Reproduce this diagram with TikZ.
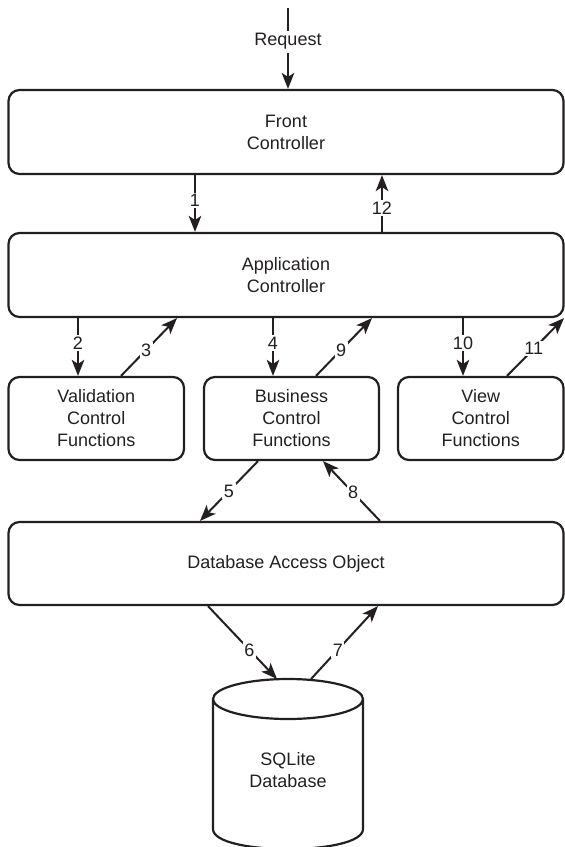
\documentclass[tikz,border=0pt]{standalone}
\usepackage{fontspec}
\setmainfont{Liberation Sans}
\usetikzlibrary{arrows.meta}
\definecolor{ink}{RGB}{35,31,32}
\begin{document}
\begin{tikzpicture}[x=1pt,y=-1pt,
  txt/.style={text=ink, align=center, font=\fontsize{18}{22}\selectfont},
  box/.style={txt, draw=ink, line width=2.2pt, rounded corners=11pt, inner sep=0pt},
  arr/.style={draw=ink, line width=2pt, -{Stealth[length=16pt,width=12.5pt,inset=4pt]}},
  lbl/.style={txt, fill=white, inner xsep=1.5pt, inner ysep=1.5pt}]
\useasboundingbox (0,0) rectangle (565,847);

% boxes
\node[box, minimum width=555pt, minimum height=84pt] (fc)  at (286,132)   {Front\\Controller};
\node[box, minimum width=555pt, minimum height=84pt] (app) at (286,275)   {Application\\Controller};
\node[box, minimum width=175.5pt, minimum height=83pt] (val) at (96.25,418.5) {Validation\\Control\\Functions};
\node[box, minimum width=175pt, minimum height=83pt] (bus) at (291.5,418.5) {Business\\Control\\Functions};
\node[box, minimum width=165.5pt, minimum height=83pt] (vw) at (480.75,418.5) {View\\Control\\Functions};
\node[box, minimum width=555pt, minimum height=83pt] (dao) at (286,563.5) {Database Access Object};

% database cylinder
\draw[draw=ink, line width=2.2pt] (288,699) ellipse [x radius=75, y radius=20]
  (213,699) -- (213,829) .. controls (213,855.7) and (363,855.7) .. (363,829) -- (363,699);
\node[txt] (db) at (288,770) {SQLite\\Database};
\coordinate (dbtop) at (288,679);

% connector columns
\coordinate (rq) at (288,8);
\coordinate (c1) at (195,0);   \coordinate (c12) at (382,0);
\coordinate (c2) at (78,0);    \coordinate (c3a) at (121,0);  \coordinate (c3b) at (177,0);
\coordinate (c4) at (273,0);   \coordinate (c9a) at (316,0);  \coordinate (c9b) at (372,0);
\coordinate (c10) at (463,0);  \coordinate (c11a) at (507,0); \coordinate (c11b) at (564,0);
\coordinate (c5a) at (258,0);  \coordinate (c5b) at (200,0);
\coordinate (c8a) at (380,0);  \coordinate (c8b) at (323,0);
\coordinate (c6a) at (208,0);  \coordinate (c6b) at (277,0);
\coordinate (c7a) at (311,0);  \coordinate (c7b) at (378,0);

% connectors
\draw[arr] (rq) -- node[lbl, pos=.415, inner ysep=3pt] {Request} (fc.north -| rq);
\draw[arr] (fc.south -| c1) -- node[lbl, pos=.45] {1} (app.north -| c1);
\draw[arr] (app.north -| c12) -- node[lbl, pos=.42] {12} (fc.south -| c12);
\draw[arr] (app.south -| c2) -- node[lbl, pos=.43] {2} (val.north -| c2);
\draw[arr] (val.north -| c3a) -- node[lbl, pos=.45] {3} (app.south -| c3b);
\draw[arr] (app.south -| c4) -- node[lbl, pos=.43] {4} (bus.north -| c4);
\draw[arr] (bus.north -| c9a) -- node[lbl, pos=.45] {9} (app.south -| c9b);
\draw[arr] (app.south -| c10) -- node[lbl, pos=.43] {10} (vw.north -| c10);
\draw[arr] (vw.north -| c11a) -- node[lbl, pos=.47] {11} (app.south -| c11b);
\draw[arr] (bus.south -| c5a) -- node[lbl, pos=.5] {5} (dao.north -| c5b);
\draw[arr] (dao.north -| c8a) -- node[lbl, pos=.47] {8} (bus.south -| c8b);
\draw[arr] (dao.south -| c6a) -- node[lbl, pos=.6] {6} (dbtop -| c6b);
\draw[arr] (dbtop -| c7a) -- node[lbl, pos=.4] {7} (dao.south -| c7b);
\end{tikzpicture}
\end{document}
